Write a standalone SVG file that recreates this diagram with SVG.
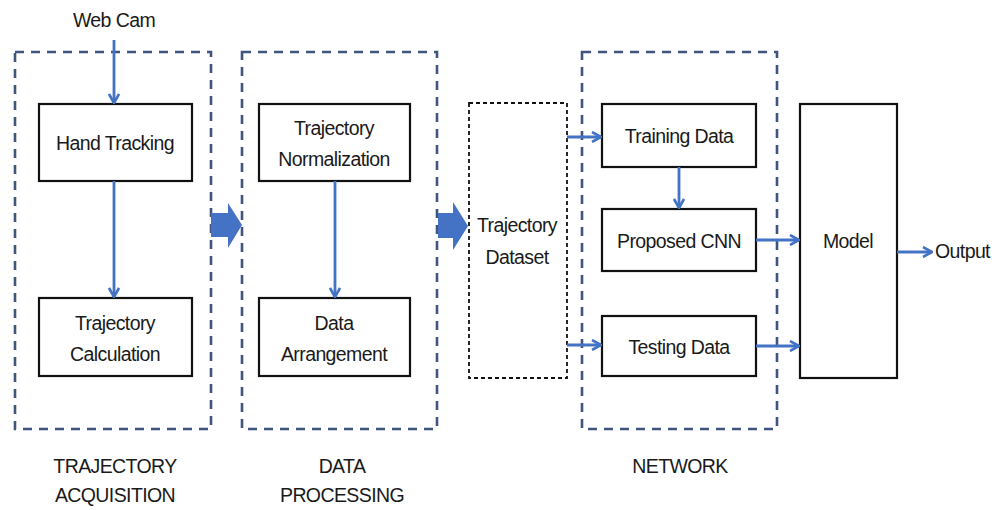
<svg xmlns="http://www.w3.org/2000/svg" width="995" height="510" viewBox="0 0 995 510">
<defs>
<marker id="ah" viewBox="0 0 12 12" refX="11" refY="6" markerWidth="12" markerHeight="12" markerUnits="userSpaceOnUse" orient="auto">
<path d="M2,1 L11,6 L2,11" fill="none" stroke="#4472C4" stroke-width="2.6"/>
</marker>
</defs>
<style>
text{font-family:"Liberation Sans",Arial,sans-serif;font-size:19.5px;letter-spacing:-0.6px;fill:#1a1a1a;text-anchor:middle}
.grp{fill:none;stroke:#3F5580;stroke-width:2.6;stroke-dasharray:9 7}
.box{fill:#fff;stroke:#111;stroke-width:2.2}
.dbox{fill:#fff;stroke:#111;stroke-width:1.8;stroke-dasharray:4 3}
.con{fill:none;stroke:#4472C4;stroke-width:2.8;marker-end:url(#ah)}
.blk{fill:#4472C4}
</style>
<rect width="995" height="510" fill="#fff"/>
<g id="group-acquisition">
<rect class="grp" x="15" y="52" width="196" height="377"/>
<text x="115" y="473">TRAJECTORY</text>
<text x="115" y="502">ACQUISITION</text>
</g>
<g id="group-processing">
<rect class="grp" x="242" y="52" width="195" height="377"/>
<text x="342" y="473">DATA</text>
<text x="342" y="502">PROCESSING</text>
</g>
<g id="group-network">
<rect class="grp" x="582" y="52" width="195" height="377"/>
<text x="680" y="473">NETWORK</text>
</g>
<g id="webcam"><text x="114" y="27">Web Cam</text></g>
<g id="hand-tracking">
<rect class="box" x="39" y="104" width="153" height="77"/>
<text x="115" y="150">Hand Tracking</text>
</g>
<g id="trajectory-calculation">
<rect class="box" x="39" y="298" width="153" height="78"/>
<text x="115" y="330">Trajectory</text>
<text x="115" y="361">Calculation</text>
</g>
<g id="trajectory-normalization">
<rect class="box" x="259" y="104" width="151" height="77"/>
<text x="334" y="135">Trajectory</text>
<text x="334" y="166">Normalization</text>
</g>
<g id="data-arrangement">
<rect class="box" x="259" y="298" width="151" height="78"/>
<text x="334" y="330">Data</text>
<text x="334" y="361">Arrangement</text>
</g>
<g id="trajectory-dataset">
<rect class="dbox" x="469" y="103" width="98" height="275"/>
<text x="517" y="232">Trajectory</text>
<text x="517" y="264">Dataset</text>
</g>
<g id="training-data">
<rect class="box" x="602" y="104" width="154" height="63"/>
<text x="679" y="143">Training Data</text>
</g>
<g id="proposed-cnn">
<rect class="box" x="602" y="209" width="154" height="62"/>
<text x="679" y="248">Proposed CNN</text>
</g>
<g id="testing-data">
<rect class="box" x="602" y="316" width="154" height="60"/>
<text x="679" y="354">Testing Data</text>
</g>
<g id="model">
<rect class="box" x="800" y="104" width="97" height="274"/>
<text x="848" y="248">Model</text>
</g>
<g id="output"><text x="935" y="258" style="text-anchor:start">Output</text></g>
<g id="connectors">
<path class="con" d="M114,40 V103"/>
<path class="con" d="M114,181 V297"/>
<path class="con" d="M335,181 V297"/>
<path class="con" d="M567,137 H601"/>
<path class="con" d="M567,345 H601"/>
<path class="con" d="M679,167 V208"/>
<path class="con" d="M756,240 H799"/>
<path class="con" d="M756,346 H799"/>
<path class="con" d="M897,252 H932"/>
<path class="blk" d="M211,213 H228 V203 L242,225 L228,248 V237 H211 Z"/>
<path class="blk" d="M438,213 H453 V202 L468,226 L453,250 V238 H438 Z"/>
</g>
</svg>
